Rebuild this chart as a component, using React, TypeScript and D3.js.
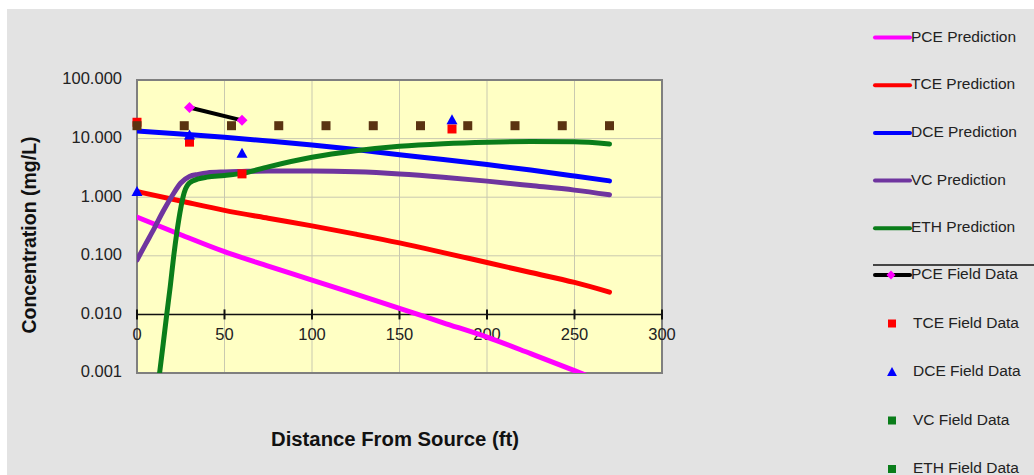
import * as d3 from "d3";

// model predictions (distance in ft, concentration in mg/L)
const predX = [0, 25, 50, 75, 100, 125, 150, 175, 200, 225, 250, 270];
const pcePred = [0.457, 0.229, 0.1175, 0.0668, 0.0385, 0.0221, 0.0127, 0.0072, 0.0041, 0.00214, 0.0011, 0.00063];
const tcePred = [1.25, 0.861, 0.596, 0.437, 0.324, 0.234, 0.166, 0.1135, 0.0767, 0.0519, 0.0351, 0.024];
const dcePred = [13.5, 12, 10.5, 9.1, 7.8, 6.5, 5.3, 4.4, 3.6, 2.9, 2.3, 1.9];

const vcX = [0, 5, 10, 15, 20, 25, 30, 35, 40, 50, 60, 75, 100, 125, 150, 175, 200, 225, 250, 270];
const vcPred = [0.085, 0.16, 0.3, 0.58, 1.05, 1.75, 2.25, 2.45, 2.6, 2.7, 2.75, 2.8, 2.8, 2.72, 2.5, 2.2, 1.88, 1.58, 1.32, 1.1];

const ethX = [12, 15, 17, 19, 21, 23, 25, 27, 30, 35, 40, 50, 60, 75, 100, 125, 150, 175, 200, 225, 250, 270];
const ethPred = [0.0006, 0.0032, 0.01, 0.03, 0.1, 0.28, 0.65, 1.2, 1.75, 2.05, 2.2, 2.35, 2.55, 3.3, 4.8, 6.2, 7.4, 8.2, 8.7, 8.9, 8.8, 8.1];

// field data
const pceFieldX = [30, 60];
const pceField = [34, 20.5];
const tceFieldX = [0, 30, 60, 180];
const tceField = [19, 8.7, 2.5, 14.6];
const dceFieldX = [0, 30, 60, 180];
const dceField = [1.25, 11.5, 5.6, 21];
const otherX = [0, 27, 54, 81, 108, 135, 162, 189, 216, 243, 270];
const otherY = [16.6, 16.6, 16.6, 16.6, 16.6, 16.6, 16.6, 16.6, 16.6, 16.6, 16.6];

const xTicks = [0, 50, 100, 150, 200, 250, 300];
const yTicks = [100, 10, 1, 0.1, 0.01, 0.001];

const predLegend = [
  { name: "PCE Prediction", color: "#ff00ff" },
  { name: "TCE Prediction", color: "#ff0000" },
  { name: "DCE Prediction", color: "#0000ff" },
  { name: "VC Prediction", color: "#6f359f" },
  { name: "ETH Prediction", color: "#0a7d1a" },
];
const fieldLegend = [
  { name: "PCE Field Data", color: "#ff00ff", shape: "pce" },
  { name: "TCE Field Data", color: "#ff0000", shape: "square" },
  { name: "DCE Field Data", color: "#0000ff", shape: "triangle" },
  { name: "VC Field Data", color: "#0a7d1a", shape: "square" },
  { name: "ETH Field Data", color: "#0a7d1a", shape: "square" },
];

const W = 1034;
const H = 475;
const font = "'Liberation Sans', Arial, sans-serif";

export default function App() {
  const x = d3.scaleLinear().domain([0, 300]).range([137, 662]);
  const y = d3.scaleLog().domain([0.001, 100]).range([373, 80]);

  const line = d3
    .line<[number, number]>()
    .x((d) => x(d[0]))
    .y((d) => y(d[1]))
    .curve(d3.curveMonotoneX);

  const zip = (xs: number[], ys: number[]) => xs.map((v, i) => [v, ys[i]] as [number, number]);

  const preds = [
    { pts: zip(predX, pcePred), color: predLegend[0].color },
    { pts: zip(predX, tcePred), color: predLegend[1].color },
    { pts: zip(predX, dcePred), color: predLegend[2].color },
    { pts: zip(vcX, vcPred), color: predLegend[3].color },
    { pts: zip(ethX, ethPred), color: predLegend[4].color },
  ];

  const sq = (cx: number, cy: number, s: number, color: string, key: string) => (
    <rect key={key} x={cx - s / 2} y={cy - s / 2} width={s} height={s} fill={color} />
  );
  const tri = (cx: number, cy: number, s: number, color: string, key: string) => (
    <path key={key} d={`M${cx},${cy - s * 0.55} L${cx + s * 0.55},${cy + s * 0.45} L${cx - s * 0.55},${cy + s * 0.45} Z`} fill={color} />
  );
  const dia = (cx: number, cy: number, s: number, color: string, key: string) => (
    <path key={key} d={`M${cx},${cy - s / 2} L${cx + s / 2},${cy} L${cx},${cy + s / 2} L${cx - s / 2},${cy} Z`} fill={color} />
  );

  const [x0, x1] = x.range();
  const [yb, yt] = y.range();

  return (
    <svg width={W} height={H} style={{ position: "absolute", left: 0, top: 0, background: "#fff" }} fontFamily={font}>
      <rect x={7} y={9} width={W - 7} height={H - 9} fill="#e3e3e3" />
      <defs>
        <clipPath id="plot">
          <rect x={x0} y={yt} width={x1 - x0} height={yb - yt} />
        </clipPath>
      </defs>
      <rect x={x0} y={yt} width={x1 - x0} height={yb - yt} fill="#ffffc4" />
      {/* grid */}
      {xTicks.slice(1, -1).map((t) => (
        <line key={"gx" + t} x1={x(t)} x2={x(t)} y1={yt} y2={yb} stroke="#c9c9b0" strokeWidth={1} />
      ))}
      {yTicks.slice(1, -1).map((t) => (
        <line key={"gy" + t} x1={x0} x2={x1} y1={y(t)} y2={y(t)} stroke="#c9c9b0" strokeWidth={1} />
      ))}
      <rect x={x0} y={yt} width={x1 - x0} height={yb - yt} fill="none" stroke="#7f7f7f" strokeWidth={2} />

      {/* x axis on 0.01 */}
      <line x1={x0} x2={x1} y1={y(0.01)} y2={y(0.01)} stroke="#111" strokeWidth={1.5} />
      {xTicks.map((t) => (
        <g key={"xt" + t}>
          <line x1={x(t)} x2={x(t)} y1={y(0.01) - 5} y2={y(0.01) + 5} stroke="#111" strokeWidth={2} />
          <text x={x(t)} y={y(0.01) + 21} textAnchor="middle" dominantBaseline="middle" fontSize={16.5} fill="#222">
            {t}
          </text>
        </g>
      ))}
      {yTicks.map((t) => (
        <text key={"yt" + t} x={122} y={y(t)} textAnchor="end" dominantBaseline="middle" fontSize={16.5} fill="#222">
          {d3.format(".3f")(t)}
        </text>
      ))}

      {/* predictions */}
      <g clipPath="url(#plot)">
        {preds.map((p, i) => (
          <path key={"p" + i} d={line(p.pts) ?? ""} fill="none" stroke={p.color} strokeWidth={5} strokeLinecap="round" strokeLinejoin="round" />
        ))}
      </g>

      {/* field data */}
      {tceFieldX.map((v, i) => sq(x(v), y(tceField[i]), 9, "#ff0000", "tf" + i))}
      {dceFieldX.map((v, i) => tri(x(v), y(dceField[i]), 10, "#0000ff", "df" + i))}
      {otherX.map((v, i) => sq(x(v), y(otherY[i]), 9, "#5a3311", "of" + i))}
      <path d={line(zip(pceFieldX, pceField)) ?? ""} fill="none" stroke="#000" strokeWidth={4} />
      {pceFieldX.map((v, i) => dia(x(v), y(pceField[i]), 11, "#ff00ff", "pf" + i))}

      {/* axis titles */}
      <text x={31} y={235} transform="rotate(-90 31 235)" textAnchor="middle" dominantBaseline="middle" fontSize={19.5} fontWeight="bold" fill="#111">
        Concentration (mg/L)
      </text>
      <text x={395} y={441} textAnchor="middle" dominantBaseline="middle" fontSize={20.3} fontWeight="bold" fill="#111">
        Distance From Source (ft)
      </text>

      {/* legend */}
      {predLegend.map((d, i) => {
        const ly = 37.5 + i * 47.7;
        return (
          <g key={"lp" + i}>
            <line x1={875} x2={910} y1={ly} y2={ly} stroke={d.color} strokeWidth={4} strokeLinecap="round" />
            <text x={911} y={ly} dominantBaseline="middle" fontSize={15.5} fill="#222">
              {d.name}
            </text>
          </g>
        );
      })}
      <line x1={873} x2={W} y1={265} y2={265} stroke="#111" strokeWidth={1.5} />
      {fieldLegend.map((d, i) => {
        const ly = 275 + i * 48.5;
        let mark;
        if (d.shape === "pce") {
          mark = (
            <g>
              <line x1={875} x2={910} y1={ly} y2={ly} stroke="#000" strokeWidth={4} strokeLinecap="round" />
              {dia(891, ly, 9, d.color, "ld")}
            </g>
          );
        } else if (d.shape === "triangle") {
          mark = tri(892, ly, 9, d.color, "lt");
        } else {
          mark = sq(892, ly, 8, d.color, "ls");
        }
        return (
          <g key={"lf" + i}>
            {mark}
            <text x={d.shape === "pce" ? 911 : 913} y={ly} dominantBaseline="middle" fontSize={15.5} fill="#222">
              {d.name}
            </text>
          </g>
        );
      })}
    </svg>
  );
}
